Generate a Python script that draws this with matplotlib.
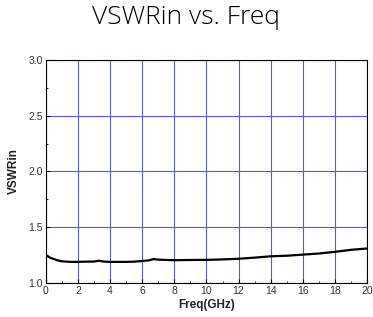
import matplotlib.pyplot as plt
from matplotlib.ticker import MultipleLocator

# Data
freq = [0.0, 0.3, 0.7, 1.0, 1.5, 2.0, 2.5, 3.0, 3.3, 3.6, 4.0, 4.5, 5.0, 5.5, 6.0,
        6.4, 6.7, 7.0, 7.5, 8.0, 9.0, 10.0, 11.0, 12.0, 13.0, 14.0, 15.0, 16.0,
        17.0, 18.0, 19.0, 20.0]
vswr = [1.25, 1.225, 1.205, 1.195, 1.19, 1.19, 1.192, 1.193, 1.2, 1.193, 1.19, 1.19,
        1.19, 1.192, 1.198, 1.203, 1.215, 1.21, 1.207, 1.205, 1.207, 1.208, 1.212,
        1.218, 1.228, 1.24, 1.245, 1.255, 1.265, 1.28, 1.298, 1.31]

x_ticks = list(range(0, 21, 2))
y_ticks = [1.0, 1.5, 2.0, 2.5, 3.0]

plt.rcParams['font.family'] = ['Liberation Sans', 'DejaVu Sans']

fig = plt.figure(figsize=(3.73, 3.17), dpi=100)
ax = fig.add_axes([0.123, 0.107, 0.861, 0.704])

ax.plot(freq, vswr, color='black', linewidth=1.6, zorder=3)

ax.set_xlim(0, 20)
ax.set_ylim(1.0, 3.0)
ax.set_xticks(x_ticks)
ax.set_yticks(y_ticks)
ax.set_yticklabels(['%.1f' % v for v in y_ticks])
ax.xaxis.set_minor_locator(MultipleLocator(1))
ax.yaxis.set_minor_locator(MultipleLocator(0.25))
ax.tick_params(which='both', direction='in', labelsize=7.5, color='black', labelcolor='#333333')
ax.tick_params(which='major', length=3)
ax.tick_params(which='minor', length=1.5)
ax.tick_params(axis='x', pad=2)
ax.tick_params(axis='y', pad=2)

ax.grid(True, which='major', color='#5858e0', linewidth=0.8)
for s in ax.spines.values():
    s.set_linewidth(0.8)

ax.set_xlabel('Freq(GHz)', fontsize=8.5, fontweight='bold', labelpad=2, color='#222222')
ax.set_ylabel('VSWRin', fontsize=8.5, fontweight='bold', labelpad=6, color='#222222')

fig.suptitle('VSWRin vs. Freq', x=0.5, y=0.985, fontsize=19,
             family=['Open Sans', 'DejaVu Sans'], fontweight=300, color='black')

fig.savefig('out.png', dpi=100)
